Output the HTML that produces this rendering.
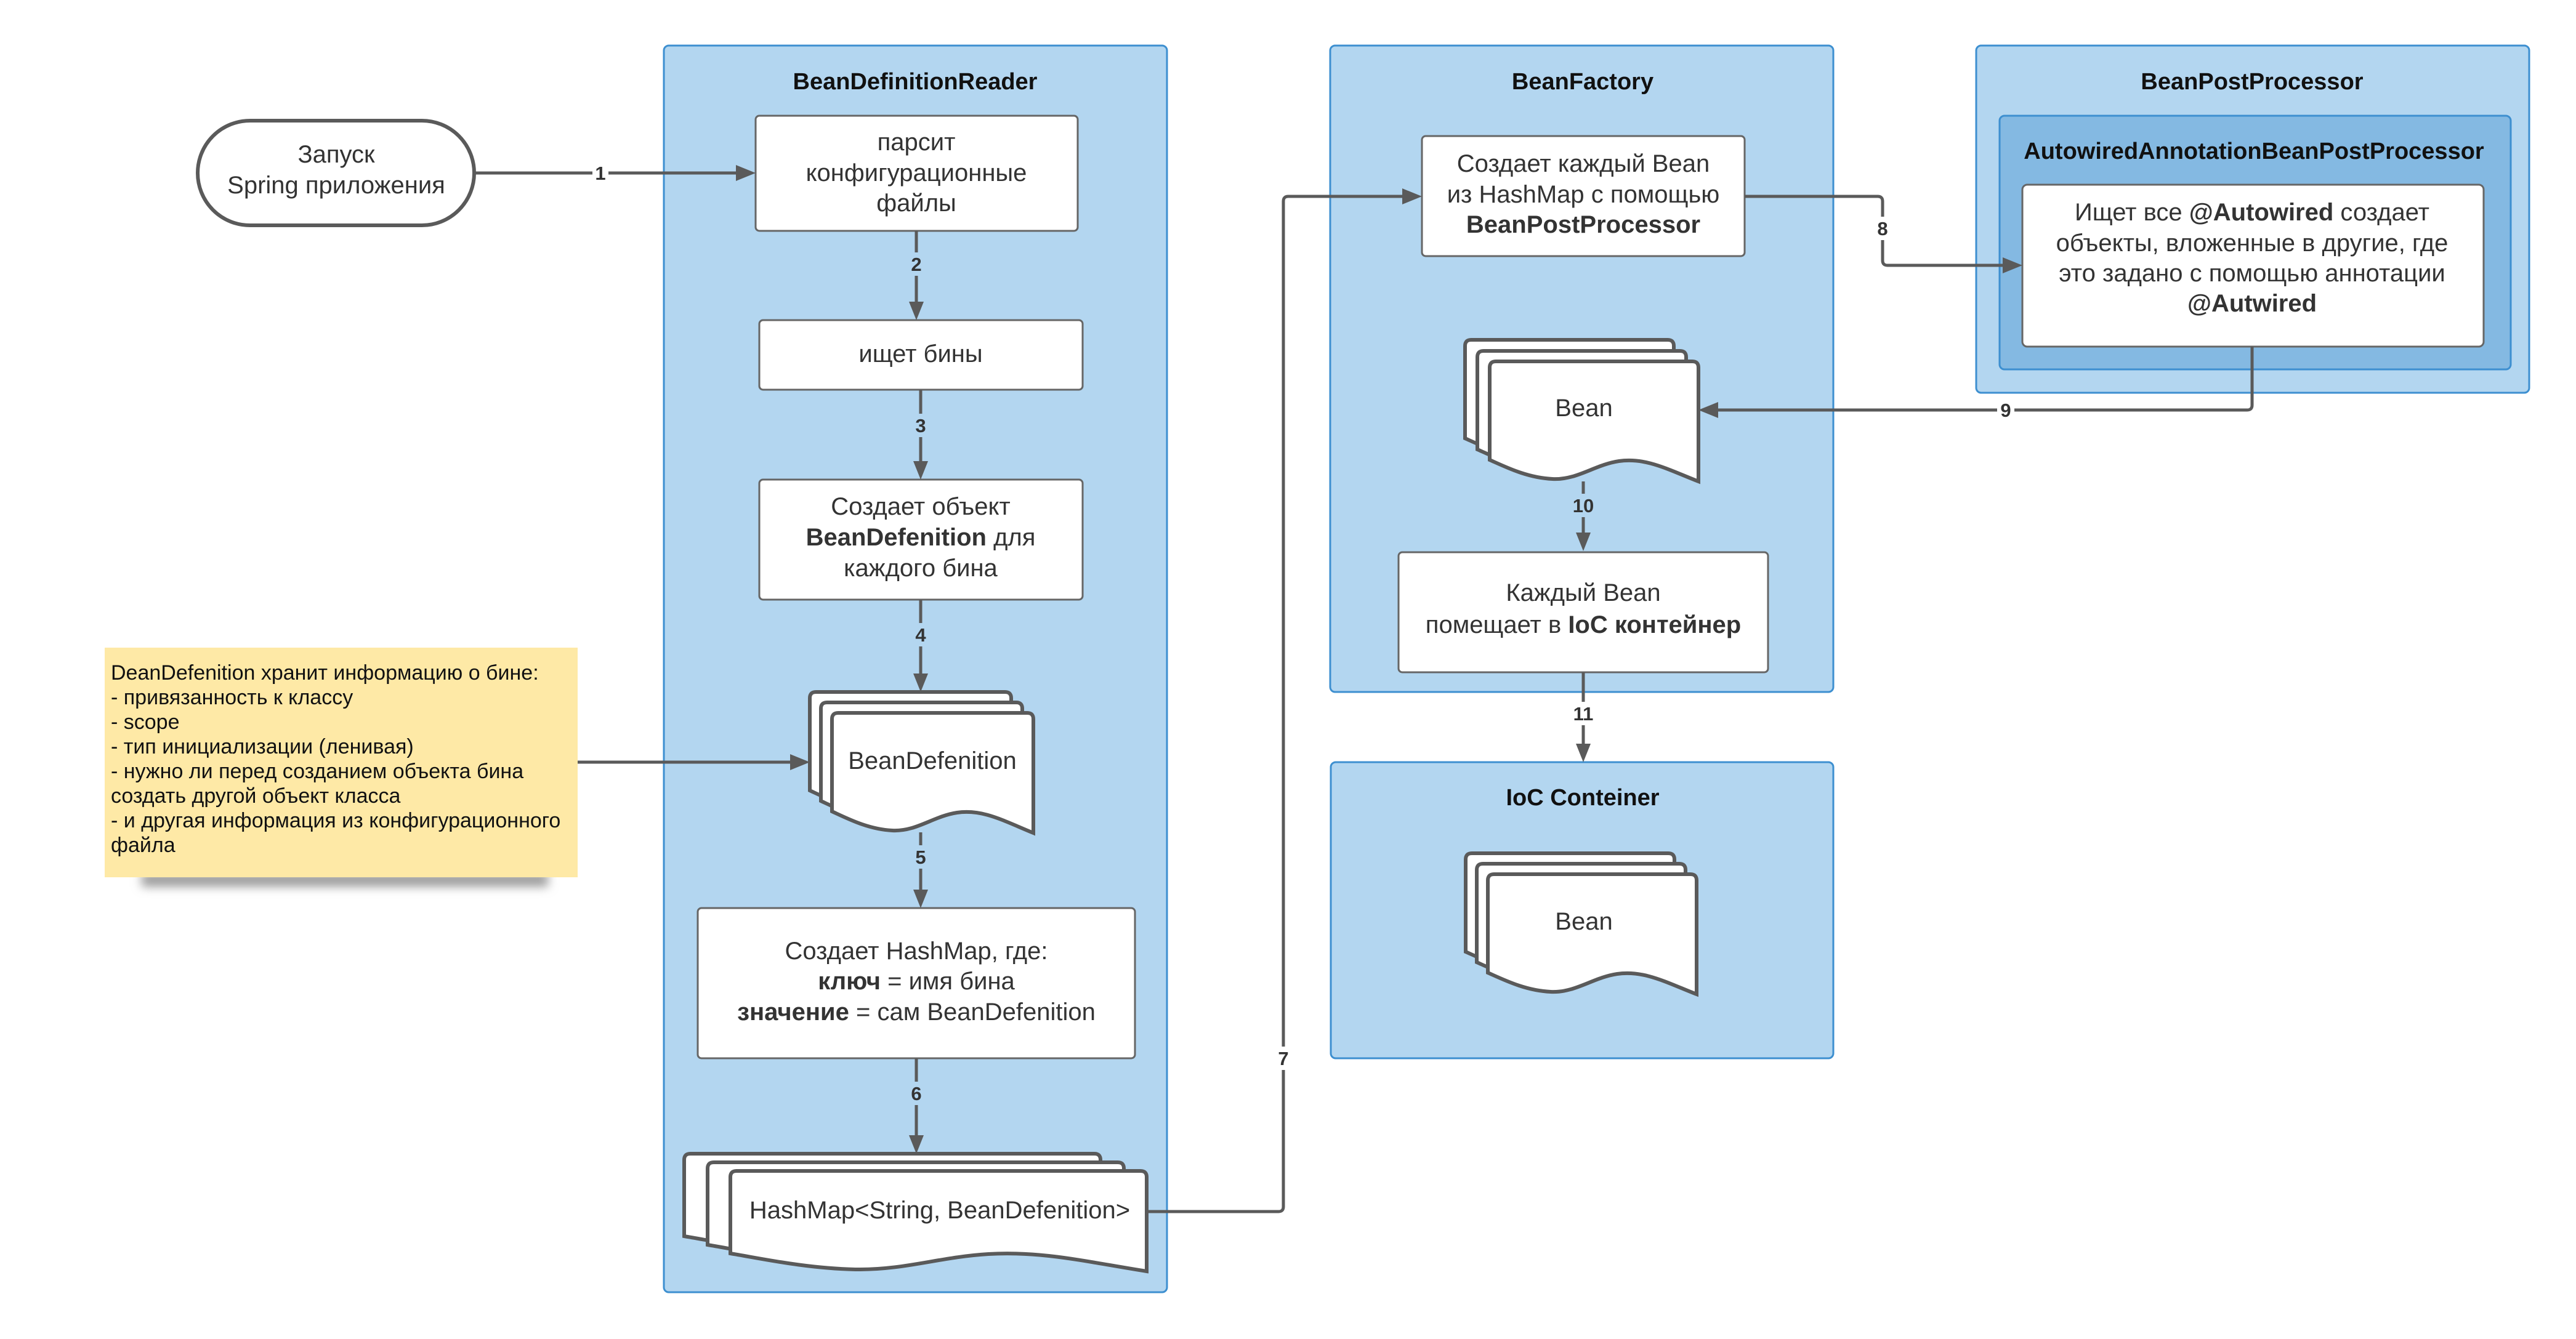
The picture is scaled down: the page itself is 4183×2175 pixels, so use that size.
<!DOCTYPE html>
<html><head><meta charset="utf-8"><style>
html,body{margin:0;padding:0;background:#fff;}
svg{display:block;}
text{font-family:"Liberation Sans",Arial,sans-serif;fill:#333;}
.t{font-size:40px;text-anchor:middle;}
.h{font-size:38px;font-weight:bold;text-anchor:middle;fill:#111;}
.b{font-weight:bold;}
.n{font-size:34px;fill:#111;}
.l{font-size:31px;font-weight:bold;text-anchor:middle;fill:#333;}
.box{fill:#fff;stroke:#666;stroke-width:3;}
.cont{fill:#b3d6f0;stroke:#3d8fd0;stroke-width:3;}
.ln{fill:none;stroke:#5a5a5a;stroke-width:5;}
.doc{fill:#fff;stroke:#5a5a5a;stroke-width:6;}
.ar{fill:#5a5a5a;}
</style></head><body>
<svg width="4183" height="2175" viewBox="0 0 4183 2175" xmlns="http://www.w3.org/2000/svg">
<defs>
<filter id="sh" x="-10%" y="-50%" width="120%" height="300%"><feGaussianBlur stdDeviation="8"/></filter>
<path id="dbd" d="M0,160 V10 Q0,0 10,0 H317 Q327,0 327,10 V195 C278,175 245,156 203,162 C164,168 137,193 98,191 C59,189 26,172 0,160 Z"/>
<path id="dhm" d="M0,134 V10 Q0,0 10,0 H666 Q676,0 676,10 V163 C575,147 507,130 419,135 C338,140 284,161 203,160 C122,158 54,143 0,134 Z"/>
<path id="dbn" d="M0,160 V10 Q0,0 10,0 H329 Q339,0 339,10 V195 C288,175 254,156 210,162 C170,168 142,193 102,191 C61,189 27,172 0,160 Z"/>
</defs>

<!-- containers -->
<rect class="cont" x="1078" y="74" width="817" height="2025" rx="8"/>
<rect class="cont" x="2160" y="74" width="817" height="1050" rx="8"/>
<rect class="cont" x="3209" y="74" width="898" height="564" rx="8"/>
<rect x="3247" y="188" width="830" height="412" rx="8" fill="#84b9e2" stroke="#3d8fd0" stroke-width="3"/>
<rect class="cont" x="2161" y="1238" width="816" height="481" rx="8"/>

<text class="h" x="1486" y="145">BeanDefinitionReader</text>
<text class="h" x="2570" y="145">BeanFactory</text>
<text class="h" x="3657" y="145">BeanPostProcessor</text>
<text class="h" x="3660" y="258">AutowiredAnnotationBeanPostProcessor</text>
<text class="h" x="2570" y="1308">IoC Conteiner</text>

<!-- note -->
<rect x="230" y="1418" width="660" height="22" fill="#999" filter="url(#sh)"/>
<rect x="170" y="1052" width="768" height="373" fill="#fee9a6"/>
<text class="n"><tspan x="180" y="1104">DeanDefenition хранит информацию о бине:</tspan><tspan x="180" y="1144">- привязанность к классу</tspan><tspan x="180" y="1184">- scope</tspan><tspan x="180" y="1224">- тип инициализации (ленивая)</tspan><tspan x="180" y="1264">- нужно ли перед созданием объекта бина</tspan><tspan x="180" y="1304">создать другой объект класса</tspan><tspan x="180" y="1344">- и другая информация из конфигурационного</tspan><tspan x="180" y="1384">файла</tspan></text>

<!-- start pill -->
<rect x="321" y="196" width="449" height="170" rx="85" fill="#fff" stroke="#5a5a5a" stroke-width="6"/>
<text class="t"><tspan x="546" y="264">Запуск</tspan><tspan x="546" y="314">Spring приложения</tspan></text>

<!-- boxes -->
<rect class="box" x="1227" y="188" width="523" height="187" rx="6"/>
<text class="t"><tspan x="1488" y="244">парсит</tspan><tspan x="1488" y="294">конфигурационные</tspan><tspan x="1488" y="343">файлы</tspan></text>
<rect class="box" x="1233" y="520" width="525" height="113" rx="6"/>
<text class="t" x="1495" y="588">ищет бины</text>
<rect class="box" x="1233" y="779" width="525" height="195" rx="6"/>
<text class="t"><tspan x="1495" y="836">Создает объект</tspan><tspan x="1495" y="886"><tspan class="b">BeanDefenition</tspan> для</tspan><tspan x="1495" y="936">каждого бина</tspan></text>
<rect class="box" x="1133" y="1475" width="710" height="244" rx="6"/>
<text class="t"><tspan x="1488" y="1558">Создает HashMap, где:</tspan><tspan x="1488" y="1607"><tspan class="b">ключ</tspan> = имя бина</tspan><tspan x="1488" y="1657"><tspan class="b">значение</tspan> = сам BeanDefenition</tspan></text>

<rect class="box" x="2309" y="221" width="524" height="195" rx="6"/>
<text class="t"><tspan x="2571" y="279">Создает каждый Bean</tspan><tspan x="2571" y="329">из HashMap с помощью</tspan><tspan x="2571" y="378" class="b">BeanPostProcessor</tspan></text>
<rect class="box" x="3284" y="300" width="749" height="263" rx="8"/>
<text class="t"><tspan x="3657" y="358">Ищет все <tspan class="b">@Autowired</tspan> создает</tspan><tspan x="3657" y="408">объекты, вложенные в другие, где</tspan><tspan x="3657" y="457">это задано с помощью аннотации</tspan><tspan x="3657" y="506" class="b">@Autwired</tspan></text>
<rect class="box" x="2271" y="897" width="600" height="195" rx="6"/>
<text class="t"><tspan x="2571" y="976">Каждый Bean</tspan><tspan x="2571" y="1028">помещает в <tspan class="b">IoC контейнер</tspan></tspan></text>

<!-- doc stacks -->
<use href="#dbd" class="doc" transform="translate(1315,1124)"/>
<use href="#dbd" class="doc" transform="translate(1333,1141)"/>
<use href="#dbd" class="doc" transform="translate(1351,1158)"/>
<text class="t" x="1514" y="1249">BeanDefenition</text>

<use href="#dhm" class="doc" transform="translate(1111,1874)"/>
<use href="#dhm" class="doc" transform="translate(1149,1888)"/>
<use href="#dhm" class="doc" transform="translate(1186,1902)"/>
<text class="t" x="1526" y="1979">HashMap&lt;String, BeanDefenition&gt;</text>

<use href="#dbn" class="doc" transform="translate(2379,552)"/>
<use href="#dbn" class="doc" transform="translate(2399,570)"/>
<use href="#dbn" class="doc" transform="translate(2419,587)"/>
<text class="t" x="2572" y="676">Bean</text>

<use href="#dbn" class="doc" transform="translate(2380,1386)"/>
<use href="#dbn" class="doc" transform="translate(2398,1403)"/>
<use href="#dbn" class="doc" transform="translate(2416,1420)"/>
<text class="t" x="2572" y="1510">Bean</text>

<!-- connectors -->
<path class="ln" d="M770,281 H1200"/><polygon class="ar" points="1227,281 1195,268 1195,294"/>
<path class="ln" d="M1488,375 V495"/><polygon class="ar" points="1488,520 1476,490 1500,490"/>
<path class="ln" d="M1495,633 V753"/><polygon class="ar" points="1495,779 1483,749 1507,749"/>
<path class="ln" d="M1495,974 V1098"/><polygon class="ar" points="1495,1124 1483,1094 1507,1094"/>
<path class="ln" d="M938,1238 H1290"/><polygon class="ar" points="1315,1238 1283,1225 1283,1251"/>
<path class="ln" d="M1495,1352 V1448"/><polygon class="ar" points="1495,1475 1483,1445 1507,1445"/>
<path class="ln" d="M1488,1719 V1848"/><polygon class="ar" points="1488,1874 1476,1844 1500,1844"/>
<path class="ln" d="M1862,1968 H2076 Q2084,1968 2084,1960 V327 Q2084,319 2092,319 H2282"/><polygon class="ar" points="2309,319 2277,306 2277,332"/>
<path class="ln" d="M2833,319 H3049 Q3057,319 3057,327 V423 Q3057,431 3065,431 H3256"/><polygon class="ar" points="3284,431 3252,418 3252,444"/>
<path class="ln" d="M3657,563 V658 Q3657,666 3649,666 H2786"/><polygon class="ar" points="2758,666 2790,653 2790,679"/>
<path class="ln" d="M2571,782 V868"/><polygon class="ar" points="2571,895 2559,865 2583,865"/>
<path class="ln" d="M2571,1092 V1210"/><polygon class="ar" points="2571,1238 2559,1208 2583,1208"/>

<!-- labels -->
<rect x="962" y="264" width="26" height="34" fill="#fff"/><text class="l" x="975" y="292">1</text>
<rect x="1474" y="410" width="28" height="38" fill="#b3d6f0"/><text class="l" x="1488" y="440">2</text>
<rect x="1481" y="672" width="28" height="38" fill="#b3d6f0"/><text class="l" x="1495" y="702">3</text>
<rect x="1481" y="1012" width="28" height="38" fill="#b3d6f0"/><text class="l" x="1495" y="1042">4</text>
<rect x="1481" y="1373" width="28" height="38" fill="#b3d6f0"/><text class="l" x="1495" y="1403">5</text>
<rect x="1474" y="1757" width="28" height="38" fill="#b3d6f0"/><text class="l" x="1488" y="1787">6</text>
<rect x="2070" y="1700" width="28" height="38" fill="#fff"/><text class="l" x="2084" y="1730">7</text>
<rect x="3043" y="352" width="28" height="38" fill="#fff"/><text class="l" x="3057" y="382">8</text>
<rect x="3243" y="650" width="28" height="34" fill="#fff"/><text class="l" x="3257" y="677">9</text>
<rect x="2548" y="802" width="46" height="38" fill="#b3d6f0"/><text class="l" x="2571" y="832">10</text>
<rect x="2548" y="1140" width="46" height="38" fill="#fff"/><text class="l" x="2571" y="1170">11</text>
</svg>
</body></html>
